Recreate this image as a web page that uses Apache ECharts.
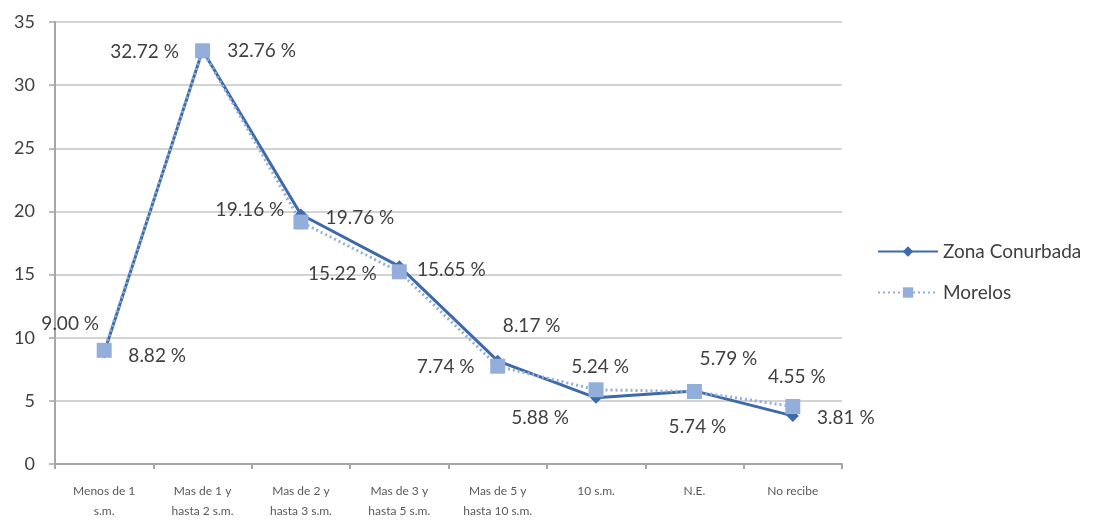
<!DOCTYPE html>
<html>
<head>
<meta charset="utf-8">
<script src="https://cdn.jsdelivr.net/npm/echarts@6/dist/echarts.min.js"></script>
<style>
  html, body { margin: 0; padding: 0; background: #ffffff; }
  #chart { width: 1096px; height: 521px; }
</style>
</head>
<body>
<div id="chart"></div>
<script>
// Income brackets (in minimum wages, s.m.)
const categories = [
  'Menos de 1\ns.m.',
  'Mas de 1 y\nhasta 2 s.m.',
  'Mas de 2 y\nhasta 3 s.m.',
  'Mas de 3 y\nhasta 5 s.m.',
  'Mas de 5 y\nhasta 10 s.m.',
  '10 s.m.',
  'N.E.',
  'No recibe'
];
const seriesNames = ['Zona Conurbada', 'Morelos'];
const zonaConurbada = [8.82, 32.76, 19.76, 15.65, 8.17, 5.24, 5.79, 3.81];
const morelos = [9.00, 32.72, 19.16, 15.22, 7.74, 5.88, 5.74, 4.55];
const yTicks = { min: 0, max: 35, interval: 5 };

// Label placement (pixel offsets from each point)
const zonaLabelOffsets = [[53, 3], [59, 1], [59, 3], [52, 4], [34, -35], [4, -31], [34, -32], [53, 2]];
const morelosLabelOffsets = [[-34, -26], [-58, 1], [-51, -12], [-57, 2], [-52, 1], [-56, 28], [3, 35], [4, -30]];

const FONT = 'Lato, "Open Sans", sans-serif';
const labelText = { color: '#404040', fontSize: 19, fontFamily: FONT };

function buildData(values, offsets) {
  return values.map((v, i) => ({
    value: v,
    label: {
      show: true,
      position: 'inside',
      offset: offsets[i],
      formatter: p => p.value.toFixed(2) + ' %',
      ...labelText
    }
  }));
}

const chart = echarts.init(document.getElementById('chart'));
chart.setOption({
  backgroundColor: '#ffffff',
  animation: false,
  grid: { left: 55, right: 254, top: 22, bottom: 57, containLabel: false },
  legend: {
    orient: 'vertical',
    left: 872,
    top: 237,
    itemGap: 22,
    itemWidth: 60,
    itemHeight: 13,
    data: seriesNames,
    textStyle: { color: '#404040', fontSize: 19, fontFamily: FONT }
  },
  xAxis: {
    type: 'category',
    data: categories,
    boundaryGap: true,
    axisLine: { lineStyle: { color: '#a6a6a6', width: 2 } },
    axisTick: { show: true, length: 5, alignWithLabel: false, lineStyle: { color: '#a6a6a6', width: 2 } },
    axisLabel: {
      interval: 0,
      color: '#595959',
      fontSize: 12,
      lineHeight: 20,
      margin: 17,
      fontFamily: FONT
    }
  },
  yAxis: {
    type: 'value',
    min: yTicks.min,
    max: yTicks.max,
    interval: yTicks.interval,
    axisLine: { show: true, lineStyle: { color: '#a6a6a6', width: 2 } },
    axisTick: { show: true, length: 6, lineStyle: { color: '#a6a6a6', width: 1.5 } },
    axisLabel: { color: '#404040', fontSize: 18, margin: 20, fontFamily: FONT },
    splitLine: { show: true, lineStyle: { color: '#c4c4c4', width: 1.5 } }
  },
  series: [
    {
      name: seriesNames[0],
      type: 'line',
      data: buildData(zonaConurbada, zonaLabelOffsets),
      symbol: 'diamond',
      symbolSize: 12,
      color: '#3d6aa8',
      lineStyle: { color: '#3d6aa8', width: 3 },
      itemStyle: { color: '#3d6aa8' },
      z: 2
    },
    {
      name: seriesNames[1],
      type: 'line',
      data: buildData(morelos, morelosLabelOffsets),
      symbol: 'rect',
      symbolSize: 15,
      color: '#94aedb',
      lineStyle: { color: '#94aedb', width: 3, type: [2, 3] },
      itemStyle: { color: '#94aedb' },
      z: 3
    }
  ]
});
</script>
</body>
</html>
